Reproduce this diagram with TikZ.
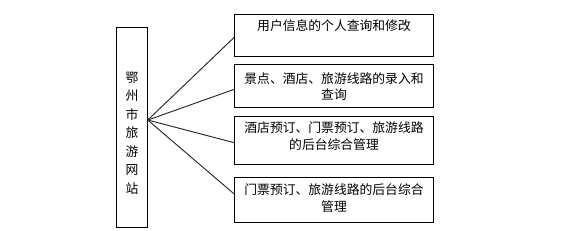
\documentclass[tikz,border=0pt]{standalone}
\usepackage{fontspec}
\setmainfont{Noto Sans CJK SC}
\usetikzlibrary{calc}
\begin{document}
\begin{tikzpicture}[x=0.75pt,y=-0.75pt,
  box/.style={draw=black,line width=0.8pt,rectangle,inner sep=0pt},
  txt/.style={inner sep=0pt,align=center,font=\fontsize{9.6pt}{12.5pt}\selectfont},
  link/.style={draw=black!85,line width=0.7pt}]
\useasboundingbox (0,0) rectangle (577,230);
\node[box,minimum width=30.5*0.75pt,minimum height=200.5*0.75pt] (L) at (132,127.5) {};
\node[txt,font=\fontsize{9.6pt}{13.9pt}\selectfont] (Lt) at (132,133) {鄂\\州\\市\\旅\\游\\网\\站};
\node[box,minimum width=198.5*0.75pt,minimum height=41.7*0.75pt] (b1) at (334,35.2) {};
\node[box,minimum width=198.5*0.75pt,minimum height=43*0.75pt] (b2) at (334,85.8) {};
\node[box,minimum width=198.5*0.75pt,minimum height=48.5*0.75pt] (b3) at (334,140.7) {};
\node[box,minimum width=198.5*0.75pt,minimum height=45*0.75pt] (b4) at (334,200) {};
\node[txt] (t1) at (334,26) {用户信息的个人查询和修改};
\node[txt] (t2) at (334,86.7) {景点、酒店、旅游线路的录入和\\查询};
\node[txt] (t3) at (334,136.3) {酒店预订、门票预订、旅游线路\\的后台综合管理};
\node[txt] (t4) at (334,198.3) {门票预订、旅游线路的后台综合\\管理};
\coordinate (hub) at ($(L.north east)!0.463!(L.south east)$);
\draw[link] (hub) -- ($(b1.north west)!0.55!(b1.south west)$);
\draw[link] (hub) -- ($(b2.north west)!0.58!(b2.south west)$);
\draw[link] (hub) -- ($(b3.north west)!0.54!(b3.south west)$);
\draw[link] (hub) -- ($(b4.north west)!0.37!(b4.south west)$);
\end{tikzpicture}
\end{document}
